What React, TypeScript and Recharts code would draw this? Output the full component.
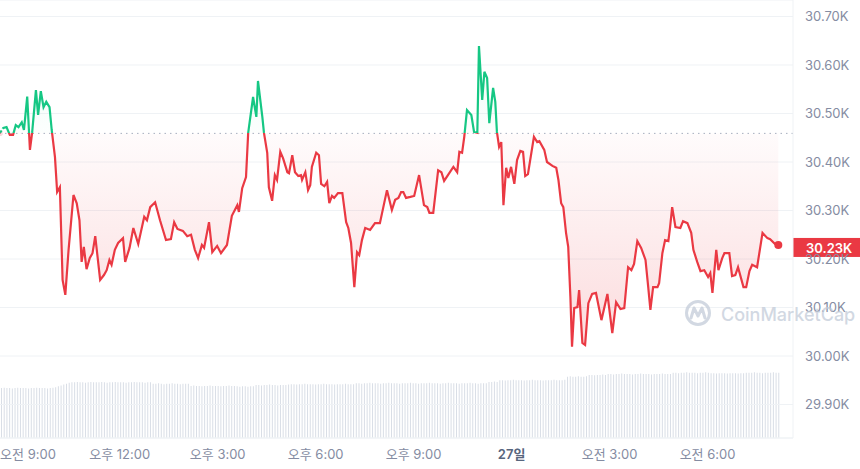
import {
  ComposedChart,
  BarChart,
  Bar,
  Line,
  Area,
  XAxis,
  YAxis,
  CartesianGrid,
  ReferenceLine,
  ReferenceDot,
} from "recharts"

const FONT = "Inter, 'Noto Sans CJK KR', 'Noto Sans', sans-serif"
const RED = "#ea3943"
const GREEN = "#16c784"
const AXIS_TEXT = "#858ca2"

// minutes since 00:00 on the 26th
const times = [
  500, 506, 512, 518, 524, 529, 534, 540, 544, 550,
  555, 559, 566, 570, 575, 580, 585, 591, 595, 601,
  605, 610, 615, 620, 626, 635, 641, 646, 650, 654,
  659, 665, 670, 675, 684, 691, 696, 701, 705, 711,
  717, 726, 730, 738, 745, 754, 765, 770, 776, 785,
  794, 805, 814, 820, 826, 836, 844, 851, 858, 864,
  871, 875, 884, 890, 899, 906, 917, 926, 936, 939,
  945, 952, 956, 965, 971, 974, 982, 985, 991, 994,
  1000, 1005, 1009, 1015, 1020, 1028, 1031, 1037, 1042, 1048,
  1053, 1055, 1061, 1066, 1070, 1073, 1081, 1086, 1090, 1096,
  1101, 1105, 1110, 1114, 1121, 1129, 1136, 1140, 1145, 1151,
  1156, 1160, 1165, 1171, 1180, 1189, 1198, 1211, 1220, 1226,
  1232, 1237, 1241, 1246, 1254, 1261, 1270, 1279, 1285, 1289,
  1296, 1305, 1311, 1316, 1323, 1333, 1340, 1344, 1349, 1353,
  1358, 1366, 1371, 1377, 1380, 1386, 1390, 1395, 1399, 1406,
  1410, 1413, 1417, 1421, 1425, 1430, 1434, 1439, 1445, 1450,
  1456, 1461, 1465, 1470, 1481, 1487, 1491, 1500, 1505, 1515,
  1522, 1526, 1531, 1535, 1540, 1544, 1548, 1551, 1555, 1561,
  1564, 1570, 1575, 1581, 1588, 1595, 1605, 1616, 1625, 1632,
  1640, 1647, 1654, 1660, 1665, 1671, 1678, 1686, 1691, 1695,
  1700, 1708, 1711, 1717, 1722, 1728, 1731, 1735, 1741, 1750,
  1755, 1763, 1770, 1774, 1781, 1787, 1794, 1801, 1805, 1809,
  1816, 1820, 1827, 1831, 1840, 1845, 1851, 1856, 1866, 1871,
  1877, 1882, 1891, 1901, 1910, 1915, 1924, 1930,
]

const prices = [
  30460, 30470, 30472, 30456, 30456, 30476, 30472, 30482, 30466, 30535,
  30425, 30460, 30548, 30497, 30546, 30513, 30524, 30513, 30466, 30410,
  30338, 30348, 30157, 30126, 30219, 30332, 30315, 30280, 30194, 30225,
  30179, 30202, 30212, 30247, 30157, 30167, 30177, 30198, 30188, 30219,
  30233, 30243, 30194, 30223, 30264, 30231, 30287, 30280, 30307, 30317,
  30280, 30239, 30241, 30276, 30262, 30258, 30247, 30250, 30219, 30202,
  30229, 30223, 30276, 30214, 30227, 30212, 30229, 30289, 30311, 30297,
  30346, 30369, 30460, 30534, 30493, 30567, 30493, 30460, 30419, 30348,
  30320, 30373, 30363, 30421, 30408, 30379, 30377, 30414, 30379, 30371,
  30373, 30363, 30379, 30342, 30352, 30390, 30419, 30414, 30355, 30350,
  30359, 30315, 30330, 30326, 30336, 30336, 30276, 30264, 30233, 30142,
  30214, 30208, 30239, 30264, 30260, 30274, 30274, 30342, 30301, 30322,
  30326, 30338, 30338, 30326, 30328, 30330, 30373, 30311, 30307, 30295,
  30295, 30383, 30379, 30361, 30373, 30390, 30379, 30421, 30419, 30452,
  30507, 30497, 30462, 30460, 30639, 30528, 30586, 30573, 30480, 30553,
  30524, 30462, 30431, 30441, 30311, 30388, 30367, 30390, 30355, 30404,
  30423, 30421, 30371, 30375, 30452, 30441, 30443, 30425, 30400, 30392,
  30388, 30363, 30315, 30307, 30254, 30225, 30122, 30019, 30099, 30101,
  30136, 30027, 30023, 30109, 30128, 30130, 30074, 30128, 30047, 30111,
  30097, 30099, 30183, 30177, 30190, 30237, 30223, 30198, 30142, 30095,
  30142, 30142, 30150, 30212, 30239, 30237, 30264, 30307, 30266, 30264,
  30278, 30274, 30254, 30219, 30194, 30175, 30177, 30163, 30171, 30130,
  30219, 30177, 30202, 30212, 30212, 30165, 30167, 30183, 30142, 30142,
  30175, 30188, 30183, 30254, 30243, 30241, 30231, 30229,
]

// 24h volume (billions), one bar per 5 minutes
const volumes = [
  11.4, 11.5, 11.4, 11.4, 11.3, 11.4, 11.5, 11.4, 11.4, 11.4, 11.3, 11.4, 11.4, 11.5, 11.4, 11.4, 11.4, 11.3, 11.4, 11.5,
  11.6, 11.8, 12.0, 12.2, 12.4,
  12.6, 12.7, 12.7, 12.8, 12.7, 12.7, 12.6, 12.7, 12.8, 12.7, 12.7, 12.7, 12.8, 12.7, 12.6, 12.7, 12.7, 12.8, 12.7, 12.7,
  12.7, 12.6, 12.7, 12.7, 12.8, 12.7, 12.7, 12.7, 12.6, 12.7, 12.7,
  12.4, 12.4, 12.5, 12.4, 12.3, 12.4, 12.4, 12.5, 12.4, 12.4, 12.3, 12.4, 12.4, 12.4,
  11.9, 12.0, 11.9, 11.9, 11.8, 11.9, 11.9, 12.0, 11.9, 11.9, 11.9, 11.8, 11.9, 11.9, 12.0, 11.9, 11.9,
  11.8, 11.7, 11.8, 11.8, 11.7, 11.8, 11.8,
  12.1, 12.1, 12.0, 12.1, 12.1, 12.2, 12.1, 12.1, 12.0, 12.1, 12.1, 12.1, 12.2,
  12.3, 12.3, 12.2, 12.3, 12.3, 12.4, 12.3, 12.3, 12.3, 12.2, 12.3, 12.3, 12.4, 12.3, 12.3, 12.3, 12.2, 12.3, 12.3, 12.3,
  12.4, 12.3, 12.3, 12.3,
  12.5, 12.5, 12.4, 12.5, 12.5, 12.6, 12.5, 12.5, 12.5, 12.4, 12.5, 12.5, 12.6, 12.5, 12.5, 12.5, 12.4, 12.5, 12.5, 12.5,
  12.6, 12.5, 12.5, 12.4, 12.5, 12.5, 12.5, 12.6, 12.5, 12.5, 12.5, 12.4, 12.5, 12.5, 12.6, 12.5, 12.5, 12.5, 12.4, 12.5,
  12.5, 12.5, 12.6, 12.5, 12.5, 12.4, 12.5, 12.5, 12.5,
  12.8, 12.8, 12.9, 12.8,
  13.2, 13.2, 13.1, 13.2, 13.2, 13.3, 13.2, 13.2, 13.2, 13.1, 13.2, 13.2, 13.3, 13.2, 13.2, 13.2, 13.1, 13.2, 13.2, 13.2,
  13.3, 13.2, 13.2, 13.2, 13.3,
  14.0, 14.1, 14.0, 14.0, 14.1, 14.0, 14.0, 14.1,
  14.4, 14.4, 14.3, 14.4, 14.4, 14.5, 14.4,
  14.6, 14.6, 14.5, 14.6, 14.6, 14.7, 14.6, 14.6, 14.6, 14.5, 14.6, 14.6, 14.7, 14.6, 14.6, 14.6, 14.5, 14.6, 14.6, 14.6,
  14.7, 14.6, 14.6, 14.6,
  14.9, 14.9, 14.8, 14.9, 14.9, 15.0, 14.9, 14.9, 14.9, 14.8, 14.9, 14.9, 15.0, 14.9,
  14.8, 14.8, 14.7, 14.8, 14.8, 14.8, 14.7, 14.8, 14.8, 14.8, 14.7, 14.8, 14.8,
  14.9, 14.9, 14.9, 15.0, 14.9, 14.9, 14.8, 14.9, 14.9, 14.9, 15.0, 14.9, 14.9,
]

const BASE = 30459
const xTicks = [540, 720, 900, 1080, 1260, 1440, 1620, 1800]
const xTickLabels = ["오전 9:00", "오후 12:00", "오후 3:00", "오후 6:00", "오후 9:00", "27일", "오전 3:00", "오전 6:00"]
const yTicks = [29900, 30000, 30100, 30200, 30300, 30400, 30500, 30600, 30700]

const priceData = times.map((t, i) => ({ t, price: prices[i] }))
const volumeData = volumes.map((v, i) => ({ i, v }))

const maxP = Math.max(...prices)
const minP = Math.min(...prices)
const split = (maxP - BASE) / (maxP - minP)
const lastT = times[times.length - 1]
const lastP = prices[prices.length - 1]

const XTick = (props: any) => {
    const { x, y, payload } = props
    const label = xTickLabels[xTicks.indexOf(payload.value)]
    const isDay = label === "27일"
    return (
        <text
            x={Math.max(x, 28)}
            y={y}
            dy={13}
            textAnchor="middle"
            fontSize={13}
            fontFamily={FONT}
            fontWeight={isDay ? 600 : 400}
            fill={isDay ? "#58667e" : AXIS_TEXT}
        >
            {label}
        </text>
    )
}

const YTick = (props: any) => {
    const { x, y, payload } = props
    return (
        <text x={x + 4} y={y} dy="0.36em" textAnchor="start" fontSize={13} fontFamily={FONT} fill={AXIS_TEXT}>
            {(payload.value / 1000).toFixed(2) + "K"}
        </text>
    )
}

const PriceTag = (props: any) => {
    const { x, y, width } = props.viewBox
    return (
        <g>
            <rect x={x + width} y={y - 7} width={67} height={19} fill={RED} />
            <text x={x + width + 13} y={y + 3} dy="0.36em" fontSize={13} fontWeight={600} fontFamily={FONT} fill="#fff">
                {(lastP / 1000).toFixed(2) + "K"}
            </text>
        </g>
    )
}

const App = () => {
    return (
        <div style={{ position: "absolute", left: 0, top: 0, width: 860, height: 469, background: "#fff" }}>
            <div style={{ position: "absolute", left: 0, top: 0 }}>
                <BarChart width={860} height={469} data={volumeData} margin={{ top: 0, right: 80, bottom: 31, left: 0 }}>
                    <XAxis dataKey="i" hide />
                    <YAxis hide domain={[0, 100]} />
                    <Bar dataKey="v" fill="#d9dee6" barSize={1} isAnimationActive={false} />
                </BarChart>
            </div>
            <div style={{ position: "absolute", left: 0, top: 0 }}>
                <ComposedChart width={860} height={469} data={priceData} margin={{ top: 0, right: 0, bottom: 0, left: 0 }}>
                    <defs>
                        <linearGradient id="strokeGrad" x1="0" y1="0" x2="0" y2="1">
                            <stop offset={split} stopColor={GREEN} />
                            <stop offset={split} stopColor={RED} />
                        </linearGradient>
                        <linearGradient id="fillGrad" x1="0" y1="0" x2="0" y2="1">
                            <stop offset={0} stopColor={GREEN} stopOpacity={0.12} />
                            <stop offset={split} stopColor={GREEN} stopOpacity={0.02} />
                            <stop offset={split} stopColor={RED} stopOpacity={0.03} />
                            <stop offset={1} stopColor={RED} stopOpacity={0.3} />
                        </linearGradient>
                    </defs>
                    <CartesianGrid vertical={false} stroke="#eff2f5" />
                    <XAxis
                        dataKey="t"
                        type="number"
                        domain={[500, 1957]}
                        allowDataOverflow
                        ticks={xTicks}
                        interval={0}
                        tick={XTick}
                        tickLine={false}
                        axisLine={{ stroke: "#eff2f5" }}
                        height={31}
                    />
                    <YAxis
                        orientation="right"
                        domain={[29831, 30734]}
                        allowDataOverflow
                        ticks={yTicks}
                        interval={0}
                        tick={YTick}
                        tickLine={false}
                        axisLine={{ stroke: "#eff2f5" }}
                        width={67}
                    />
                    <Area
                        type="linear"
                        dataKey="price"
                        baseValue={BASE}
                        stroke="none"
                        fill="url(#fillGrad)"
                        isAnimationActive={false}
                    />
                    <ReferenceLine y={BASE} stroke="#a7afbf" strokeDasharray="1.5 4" />
                    <Line
                        type="linear"
                        dataKey="price"
                        stroke="url(#strokeGrad)"
                        strokeWidth={2.2}
                        dot={false}
                        activeDot={false}
                        isAnimationActive={false}
                    />
                    <ReferenceDot x={lastT} y={lastP} r={4} fill={RED} stroke="none" />
                    <ReferenceLine y={lastP} stroke="none" label={PriceTag} />
                </ComposedChart>
            </div>
            <svg width={860} height={469} style={{ position: "absolute", left: 0, top: 0, pointerEvents: "none" }}>
                <g opacity={0.75}>
                    <circle cx={698} cy={313} r={11.5} fill="none" stroke="#c3ccd9" strokeWidth={3} />
                    <path d="M691 318 L694 308 L698 316 L702 308 L705 318" fill="none" stroke="#c3ccd9" strokeWidth={3} strokeLinejoin="round" strokeLinecap="round" />
                    <text x={721} y={321} fontSize={18} fontWeight={500} fontFamily={FONT} fill="#c3ccd9">
                        CoinMarketCap
                    </text>
                </g>
            </svg>
        </div>
    )
}

export default App
